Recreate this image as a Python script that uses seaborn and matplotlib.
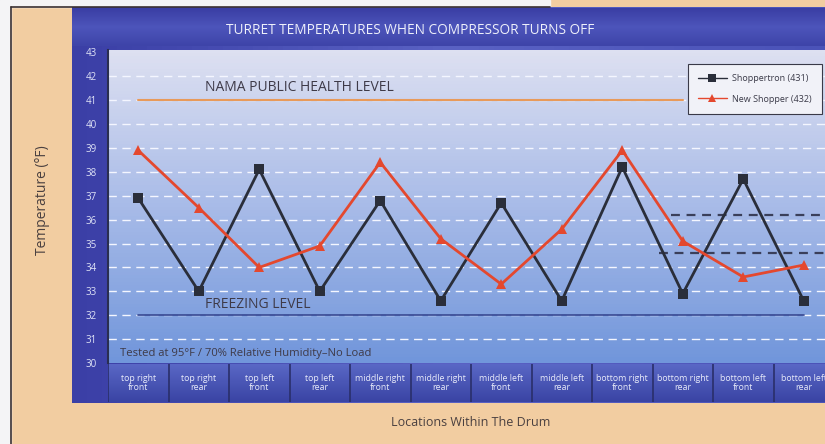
import numpy as np
import pandas as pd
import matplotlib
matplotlib.use("Agg")
import matplotlib.pyplot as plt
import seaborn as sns
from matplotlib.colors import LinearSegmentedColormap
from matplotlib.patches import Rectangle

# Data
locations = ["top right\nfront", "top right\nrear", "top left\nfront", "top left\nrear",
             "middle right\nfront", "middle right\nrear", "middle left\nfront", "middle left\nrear",
             "bottom right\nfront", "bottom right\nrear", "bottom left\nfront", "bottom left\nrear"]
shoppertron = [36.9, 33.0, 38.1, 33.0, 36.8, 32.6, 36.7, 32.6, 38.2, 32.9, 37.7, 32.6]
new_shopper = [38.9, 36.5, 34.0, 34.9, 38.4, 35.2, 33.3, 35.6, 38.9, 35.1, 33.6, 34.1]
health_level = 41
freezing_level = 32
y_ticks = list(range(30, 44))

W, H = 825, 444
sns.set_theme(style="white")
plt.rcParams["font.family"] = ["Open Sans", "DejaVu Sans"]

fig = plt.figure(figsize=(W / 100, H / 100), dpi=100)
fig.patch.set_facecolor("#f2cda1")

# background frame (pixel coordinates)
bg = fig.add_axes([0, 0, 1, 1])
bg.set_xlim(0, W)
bg.set_ylim(H, 0)
bg.axis("off")
bg.add_patch(Rectangle((0, 0), 11, H, color="#f4f4f6"))
bg.add_patch(Rectangle((0, 0), 550, 7, color="#f4f4f6"))
bg.plot([11, 11], [7, H], color="#3a3030", lw=1.2)
bg.plot([11, 550], [7, 7], color="#3a3030", lw=1.2)
frame_cmap = LinearSegmentedColormap.from_list("frame", ["#3b3fa6", "#5a62c4", "#4b53b8"])
bg.imshow(np.linspace(0, 1, 50).reshape(1, -1), extent=[72, W, 403, 8], aspect="auto",
          cmap=frame_cmap, zorder=1)
title_cmap = LinearSegmentedColormap.from_list("title", ["#3a3ea4", "#4d55bb", "#3e44a8"])
bg.imshow(np.linspace(0, 1, 50).reshape(-1, 1), extent=[72, W, 46, 8], aspect="auto",
          cmap=title_cmap, zorder=1)
bg.text(410, 30, "TURRET TEMPERATURES WHEN COMPRESSOR TURNS OFF", color="#eef0fa",
        fontsize=9.8, ha="center", va="center", zorder=2)
bg.text(42, 200, "Temperature (°F)", rotation=90, color="#4a4040", fontsize=10,
        ha="center", va="center")
bg.text(471, 422, "Locations Within The Drum", color="#4a4040", fontsize=9,
        ha="center", va="center")

# main plot area
x0, x1 = 108, 834
y0, y1 = 50, 363
ax = fig.add_axes([x0 / W, 1 - y1 / H, (x1 - x0) / W, (y1 - y0) / H])
ax.set_xlim(-0.5, 11.5)
ax.set_ylim(30, 43.1)
area_cmap = LinearSegmentedColormap.from_list("area", ["#7196db", "#a8bbe8", "#dde0f1"])
ax.imshow(np.linspace(0, 1, 100).reshape(-1, 1), extent=[-0.5, 11.5, 30, 43.1],
          aspect="auto", cmap=area_cmap, origin="lower", zorder=0)
for t in y_ticks[1:-1]:
    ax.axhline(t, color="#f4f6ff", lw=1.0, ls=(0, (6, 4)), zorder=1)

ax.plot([0, 9.0], [health_level] * 2, color="#e89a5a", lw=1.5, zorder=2)
ax.text(1.1, health_level + 0.2, "NAMA PUBLIC HEALTH LEVEL", color="#3e3a48",
        fontsize=10, va="bottom", zorder=3)
ax.plot([0, 11.0], [freezing_level] * 2, color="#3d4f98", lw=1.3, zorder=2)
ax.text(1.1, freezing_level + 0.12, "FREEZING LEVEL", color="#3e3a48",
        fontsize=10, va="bottom", zorder=3)
ax.plot([8.8, 11.5], [36.2, 36.2], color="#3a3f5a", lw=1.6, ls=(0, (4, 3)), zorder=2)
ax.plot([8.6, 11.5], [34.6, 34.6], color="#3a3f5a", lw=1.6, ls=(0, (4, 3)), zorder=2)
ax.text(-0.3, 30.38, "Tested at 95°F / 70% Relative Humidity–No Load", color="#3e3a48",
        fontsize=8.1, va="center", zorder=3)

df = pd.DataFrame({"pos": list(range(len(locations))) * 2,
                   "temp": shoppertron + new_shopper,
                   "model": ["Shoppertron (431)"] * len(locations) + ["New Shopper (432)"] * len(locations)})
sns.lineplot(data=df, x="pos", y="temp", hue="model", style="model",
             palette={"Shoppertron (431)": "#2a2e3a", "New Shopper (432)": "#e4482e"},
             markers={"Shoppertron (431)": "s", "New Shopper (432)": "^"},
             dashes=False, lw=2, markersize=6.5, markeredgewidth=0, sort=False,
             ax=ax, zorder=4)

leg = ax.legend(loc="upper right", bbox_to_anchor=(0.989, 0.97), fontsize=6.5, frameon=True,
                fancybox=False, borderpad=1.1, labelspacing=1.3, handlelength=3.2,
                handletextpad=0.6, markerscale=0.8)
for h in leg.get_lines():
    h.set_linewidth(1.0)
leg.get_frame().set_edgecolor("#3a3a48")
leg.get_frame().set_facecolor("#f1f2f8")
leg.get_frame().set_linewidth(0.8)
leg.get_frame().set_alpha(1)
leg.set_zorder(6)
for txt in leg.get_texts():
    txt.set_color("#3a3a48")

ax.set_xlabel("")
ax.set_ylabel("")
ax.set_xticks([])
ax.set_yticks(y_ticks)
ax.set_yticklabels([str(t) for t in y_ticks], color="#dfe3f6", fontsize=7)
ax.tick_params(axis="y", length=0, pad=8)
for s in ax.spines.values():
    s.set_visible(False)
ax.spines["left"].set_visible(True)
ax.spines["left"].set_color("#2a2e50")
ax.spines["left"].set_linewidth(1.5)

# category strip
sx = fig.add_axes([x0 / W, 1 - 402 / H, (x1 - x0) / W, (402 - 364) / H])
sx.set_xlim(-0.5, 11.5)
sx.set_ylim(0, 1)
cell_cmap = LinearSegmentedColormap.from_list("cell", ["#3a44a4", "#5a68c6"])
sx.imshow(np.linspace(0, 1, 50).reshape(-1, 1), extent=[-0.5, 11.5, 0, 1],
          aspect="auto", cmap=cell_cmap, origin="lower", zorder=0)
for i, lab in enumerate(locations):
    sx.axvline(i - 0.5, color="#2a2f6a", lw=1.2)
    sx.text(i, 0.5, lab, color="#e8ebfa", fontsize=6.3, ha="center", va="center",
            linespacing=1.0)
sx.axis("off")

fig.savefig("out.png", dpi=100, facecolor=fig.get_facecolor())
